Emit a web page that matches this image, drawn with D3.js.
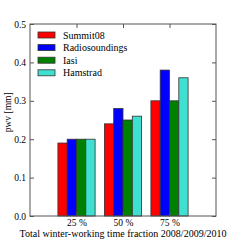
<!DOCTYPE html>
<html>
<head>
<meta charset="utf-8">
<script src="https://cdn.jsdelivr.net/npm/d3@7"></script>
<style>
  body { margin: 0; background: #fff; }
  text { font-family: "Liberation Serif", "DejaVu Serif", serif; fill: #000; }
</style>
</head>
<body>
<div id="chart"></div>
<script>
// chart data
const fractions = ["25 %", "50 %", "75 %"];
const seriesNames = ["Summit08", "Radiosoundings", "Iasi", "Hamstrad"];
const summit08 = [0.19, 0.24, 0.30];
const radiosoundings = [0.20, 0.28, 0.38];
const iasi = [0.20, 0.25, 0.30];
const hamstrad = [0.20, 0.26, 0.36];
const yTicks = [0.0, 0.1, 0.2, 0.3, 0.4, 0.5];

const colors = ["#ff0000", "#0000ff", "#008000", "#40e0d0"];
const seriesValues = [summit08, radiosoundings, iasi, hamstrad];

const margin = { top: 24, right: 24, bottom: 24, left: 30 },
    width = 240 - margin.left - margin.right,
    height = 240 - margin.top - margin.bottom;

const svg = d3.select("#chart")
    .append("svg")
    .attr("width", 240)
    .attr("height", 240)
    .append("g")
    .attr("transform", "translate(" + margin.left + "," + margin.top + ")");

// x positions 1,2,3 on a 0..4 domain, bars 0.2 wide
const x = d3.scaleLinear().domain([0, 4]).range([0, width]);
const y = d3.scaleLinear().domain([0, 0.5]).range([height, 0]);
const barW = 0.2;

const rows = [];
fractions.forEach((f, i) => {
    seriesValues.forEach((vals, s) => {
        rows.push({ pos: i + 1, s: s, v: vals[i] });
    });
});

svg.selectAll("rect.bar")
    .data(rows)
    .enter()
    .append("rect")
    .attr("class", "bar")
    .attr("x", d => x(d.pos - 2 * barW + d.s * barW))
    .attr("width", x(barW) - x(0))
    .attr("y", d => y(d.v))
    .attr("height", d => y(0) - y(d.v))
    .attr("fill", d => colors[d.s])
    .attr("stroke", "#333")
    .attr("stroke-width", 0.8);

// frame
svg.append("rect")
    .attr("width", width)
    .attr("height", height)
    .attr("fill", "none")
    .attr("stroke", "#555")
    .attr("stroke-width", 1);

// axes with inward ticks
const xTickVals = [1, 2, 3];
const xFmt = d => fractions[d - 1];
svg.append("g")
    .attr("transform", "translate(0," + height + ")")
    .call(d3.axisBottom(x).tickValues(xTickVals).tickFormat(xFmt).tickSizeInner(-4).tickSizeOuter(0).tickPadding(3))
    .call(g => g.select(".domain").remove());
svg.append("g")
    .call(d3.axisTop(x).tickValues(xTickVals).tickFormat("").tickSizeInner(-4).tickSizeOuter(0))
    .call(g => g.select(".domain").remove());
svg.append("g")
    .call(d3.axisLeft(y).tickValues(yTicks).tickFormat(d3.format(".1f")).tickSizeInner(-4).tickSizeOuter(0).tickPadding(4))
    .call(g => g.select(".domain").remove());
svg.append("g")
    .attr("transform", "translate(" + width + ",0)")
    .call(d3.axisRight(y).tickValues(yTicks).tickFormat("").tickSizeInner(-4).tickSizeOuter(0))
    .call(g => g.select(".domain").remove());

svg.selectAll(".tick line").attr("stroke", "#555");
svg.selectAll(".tick text")
    .style("font-family", "'Liberation Serif', serif")
    .style("font-size", "9.5px")
    .attr("fill", "#000");

// axis labels
svg.append("text")
    .attr("x", width / 2)
    .attr("y", height + 20.5)
    .attr("text-anchor", "middle")
    .style("font-size", "10px")
    .text("Total winter-working time fraction 2008/2009/2010");

svg.append("text")
    .attr("transform", "translate(" + (-19) + "," + (y(0.27)) + ") rotate(-90)")
    .attr("text-anchor", "middle")
    .style("font-size", "9.5px")
    .text("pwv [mm]");

// legend
const legend = svg.append("g").attr("transform", "translate(8,8)");
seriesNames.forEach((name, i) => {
    const row = legend.append("g").attr("transform", "translate(0," + (i * 12.6) + ")");
    row.append("rect")
        .attr("width", 17)
        .attr("height", 6)
        .attr("fill", colors[i])
        .attr("stroke", "#333")
        .attr("stroke-width", 0.8);
    row.append("text")
        .attr("x", 25)
        .attr("y", 3)
        .attr("dy", "0.35em")
        .style("font-size", "10px")
        .text(name);
});
</script>
</body>
</html>
